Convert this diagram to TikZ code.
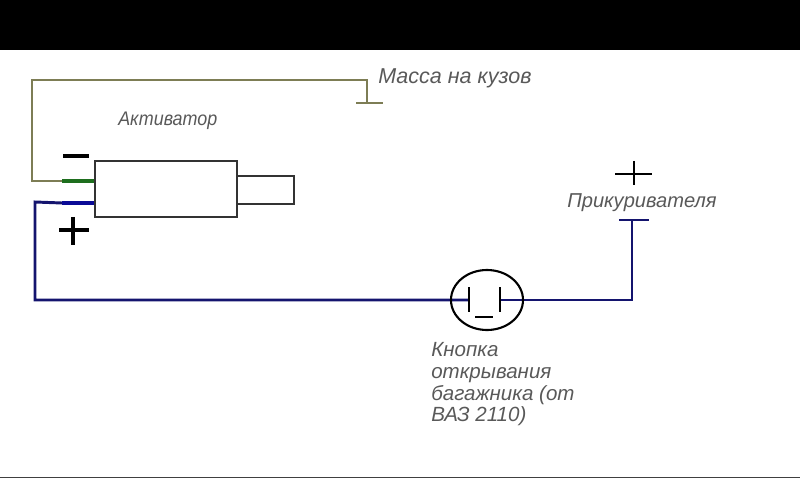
\documentclass[tikz,border=0pt]{standalone}
\usepackage{fontspec}
\setmainfont{Liberation Sans}
\usetikzlibrary{positioning,shapes.geometric}

\begin{document}
\begin{tikzpicture}[
        x=0.025cm, y=-0.025cm,
        body/.style = {draw=black!80, line width=1pt, inner sep=0pt},
        note/.style = {inner sep=0pt, anchor=west, text=black!65, font=\fontsize{#1}{15.5}\selectfont\itshape},
        masswire/.style = {draw={rgb,255:red,125;green,125;blue,85}, line width=2.1pt},
        feedwire/.style = {draw={rgb,255:red,20;green,20;blue,110}, line width=2.1pt},
        sign/.style = {draw=black, line width=2.2pt},
        thin sign/.style = {draw=black, line width=1.5pt},
        ]
        \useasboundingbox (0,0) rectangle (800,478);
        \fill[black] (0,0) rectangle (800,50);
        \fill[black!75] (0,476.5) rectangle (800,478);
        % activator
        \node[body, minimum width=3.55cm, minimum height=1.4cm](act) at (166,189) {};
        \node[body, minimum width=1.425cm, minimum height=0.7cm](rod) at (265.5,190) {};
        \node[note=14](actl) at (118,121) {\addfontfeature{FakeStretch=0.91}Активатор};
        % mass wire
        \coordinate (m0) at (62,181);
        \coordinate (m1) at (32,181);
        \coordinate (m2) at (32,80);
        \coordinate (m3) at (367,80);
        \coordinate (m4) at (367,103);
        \coordinate (m5) at (356,103);
        \coordinate (m6) at (383,103);
        \draw[masswire] (m0) -- (m1) -- (m2) -- (m3) -- (m4);
        \draw[masswire] (m5) -- (m6);
        \draw[draw={rgb,255:red,30;green,110;blue,30}, line width=2.4pt] (m0) -- (act.west |- m0);
        \node[note=15.3](massl) at (378,78) {Масса на кузов};
        % feed wire
        \coordinate (f0) at (62,203);
        \coordinate (f1) at (35,202);
        \coordinate (f2) at (35,300);
        \coordinate (f3) at (468,300);
        \coordinate (f4) at (500,300);
        \coordinate (f5) at (632,300);
        \coordinate (f6) at (632,220);
        \coordinate (f7) at (619,220);
        \coordinate (f8) at (649,220);
        \draw[feedwire] (f0) -- (f1) -- (f2) -- (f3);
        \draw[feedwire] (f4) -- (f5) -- (f6);
        \draw[feedwire] (f7) -- (f8);
        \draw[draw={rgb,255:red,10;green,10;blue,150}, line width=2.4pt] (f0) -- (act.west |- f0);
        % button
        \node[thin sign, ellipse, inner sep=0pt, minimum width=1.8cm, minimum height=1.5cm](btn) at (487,300) {};
        \draw[thin sign] (469,287) -- (469,312);
        \draw[thin sign] (500,287) -- (500,312);
        \draw[thin sign] (475,317) -- (493,317);
        \node[note=14.6, align=left, anchor=north west](btnl) at (431,342) {Кнопка\\открывания\\багажника (от\\ВАЗ 2110)};
        % signs
        \draw[sign, line width=3pt] (63,156) -- (89,156);
        \draw[sign] (59,230) -- (89,230);
        \draw[sign] (73,217) -- (73,245);
        \draw[thin sign] (615,174) -- (652,174);
        \draw[thin sign] (634,161) -- (634,185);
        \node[note=14.3](cigl) at (567,203) {Прикуривателя};
\end{tikzpicture}
\end{document}
